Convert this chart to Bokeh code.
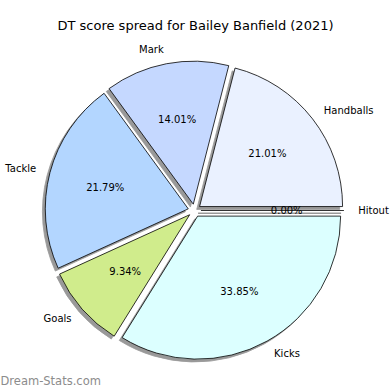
import numpy as np
from bokeh.plotting import figure
from bokeh.models import Range1d
from bokeh.core.properties import value
from bokeh.embed import file_html
from bokeh.resources import INLINE

# ---- data ----
categories = ["Handballs", "Mark", "Tackle", "Goals", "Kicks", "Hitout"]
percentages = [21.01, 14.01, 21.79, 9.34, 33.85, 0.00]
colors = ["#eaf1ff", "#c5d8ff", "#b3d6ff", "#d0ec8c", "#dcffff", "#d8e8ff"]
title_text = "DT score spread for Bailey Banfield (2021)"
watermark_text = "Dream-Stats.com"

# ---- layout ----
W = H = 390
CX, CY = 194.0, 180.0      # pie centre (plot units = px)
R = 143.0                  # radius
EXPLODE = 0.045 * R
SHADOW = 0.02 * R
FONT = value("DejaVu Sans")

p = figure(width=W, height=H, output_backend="svg", toolbar_location=None,
           x_range=Range1d(0, W), y_range=Range1d(0, H), min_border=0)
p.axis.visible = False
p.grid.visible = False
p.outline_line_color = None
p.background_fill_color = "white"

vals = np.array(percentages, dtype=float)
ang = vals / vals.sum() * 2 * np.pi
end = np.cumsum(ang)
start = end - ang
mid = (start + end) / 2
cx = CX + EXPLODE * np.cos(mid)
cy = CY + EXPLODE * np.sin(mid)

nz = ang > 0
z = ~nz

# shadows
p.wedge(x=cx[nz] - SHADOW, y=cy[nz] - SHADOW, radius=R,
        start_angle=start[nz], end_angle=end[nz], direction="anticlock",
        fill_color="#999999", line_color="#999999", line_width=0.8)
for i in np.where(z)[0]:
    p.segment(x0=[cx[i] - SHADOW], y0=[cy[i] - SHADOW],
              x1=[cx[i] - SHADOW + R * np.cos(mid[i])], y1=[cy[i] - SHADOW + R * np.sin(mid[i])],
              line_color="#999999", line_width=1.5)

# wedges
p.wedge(x=cx[nz], y=cy[nz], radius=R,
        start_angle=start[nz], end_angle=end[nz], direction="anticlock",
        fill_color=[c for c, k in zip(colors, nz) if k], line_color="black", line_width=0.8)
for i in np.where(z)[0]:
    p.segment(x0=[cx[i]], y0=[cy[i]],
              x1=[cx[i] + R * np.cos(mid[i])], y1=[cy[i] + R * np.sin(mid[i])],
              line_color="black", line_width=0.8)

# percentage labels
pct_r = EXPLODE + 0.6 * R
p.text(x=CX + pct_r * np.cos(mid), y=CY + pct_r * np.sin(mid),
       text=[f"{v:.2f}%" for v in vals], text_align="center", text_baseline="middle",
       text_font=FONT, text_font_size="10px", text_color="black")

# category labels
lab_r = EXPLODE + 1.1 * R
lx = CX + lab_r * np.cos(mid)
ly = CY + lab_r * np.sin(mid)
right = np.cos(mid) >= 0
p.text(x=lx[right], y=ly[right], text=[c for c, k in zip(categories, right) if k],
       text_align="left", text_baseline="middle", text_font=FONT,
       text_font_size="10px", text_color="black")
p.text(x=lx[~right], y=ly[~right], text=[c for c, k in zip(categories, ~right) if k],
       text_align="right", text_baseline="middle", text_font=FONT,
       text_font_size="10px", text_color="black")

# title
p.text(x=[195], y=[H - 25], text=[title_text], text_align="center", text_baseline="middle",
       text_font=FONT, text_font_size="13px", text_color="black")

# watermark
p.text(x=[0], y=[10], text=[watermark_text], text_align="left", text_baseline="middle",
       text_font=FONT, text_font_size="11.5px", text_color="#8c8c8c")

open("out.html", "w").write(file_html(p, INLINE))
